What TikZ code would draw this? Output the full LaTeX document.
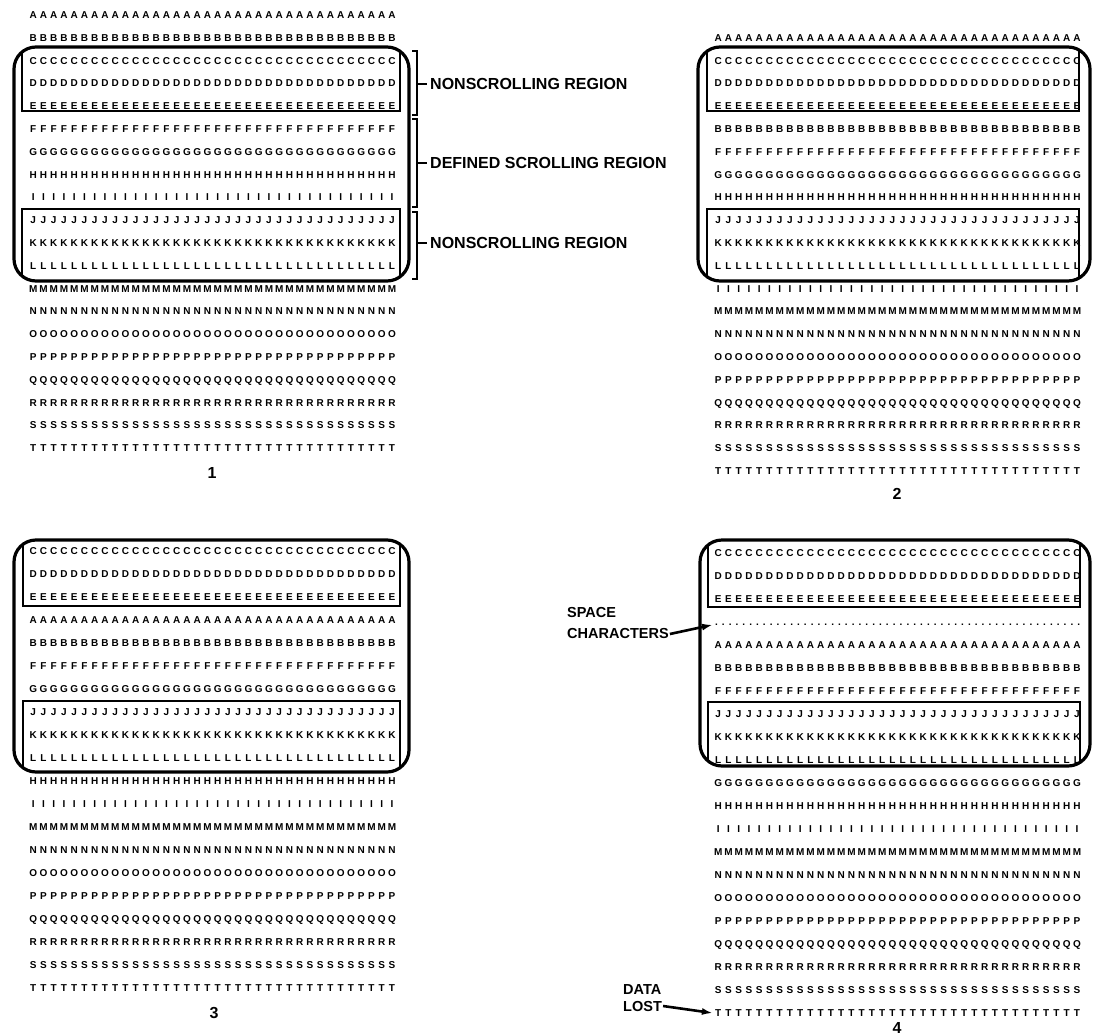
\documentclass[tikz,border=0pt]{standalone}
\usepackage{fontspec}
\setmainfont{Liberation Sans}
\usetikzlibrary{arrows.meta}
\newcommand\charrow[1]{\foreach \k in {1,...,36}{\makebox[10.25pt]{#1}}}
\newcommand\spacerow{\foreach \k in {1,...,54}{\makebox[6.833pt]{.}}}
\tikzset{
  crow/.style={anchor=base west,inner sep=0pt,font=\fontsize{10}{10}\selectfont\bfseries},
  screen/.style={line width=3.2pt,rounded corners=22pt},
  fixedbox/.style={line width=1.6pt},
  tickline/.style={line width=1.3pt},
  regionlbl/.style={anchor=west,inner sep=3pt,font=\fontsize{16}{16}\selectfont\bfseries},
  notelbl/.style={anchor=west,inner sep=1pt,font=\fontsize{14.5}{15}\selectfont\bfseries},
  pagenum/.style={inner sep=0pt,font=\fontsize{16}{16}\selectfont\bfseries},
  pointer/.style={line width=2.6pt,-{Latex[length=11pt,width=7pt]}}
}
\begin{document}
\begin{tikzpicture}[x=1pt,y=-1pt]
  \useasboundingbox (0,0) rectangle (1095,1036);

  \foreach \c [count=\i from 0] in {A,B,C,D,E,F,G,H,I,J,K,L,M,N,O,P,Q,R,S,T}
    \node[crow] (p1-\c) at (27.9,18.5+22.8*\i) {\charrow{\c}};
  \begin{scope}
    \clip[rounded corners=22pt] (14,47) rectangle (409,281);
    \draw[fixedbox] (22,40) rectangle (400,111);
    \draw[fixedbox] (22,209) rectangle (400,290);
  \end{scope}
  \draw[screen] (14,47) rectangle (409,281);
  \node[regionlbl] (nsr-top) at (427,84) {NONSCROLLING REGION};
  \node[regionlbl] (dsr) at (427,163) {DEFINED SCROLLING REGION};
  \node[regionlbl] (nsr-bot) at (427,243) {NONSCROLLING REGION};
  \draw[tickline] (412,51) -| (417,115) -- (412,115);
  \draw[tickline] (412,119) -| (417,207) -- (412,207);
  \draw[tickline] (412,212) -| (417,279) -- (412,279);
  \draw[tickline] (417,84) -- (nsr-top.west);
  \draw[tickline] (417,163) -- (dsr.west);
  \draw[tickline] (417,243) -- (nsr-bot.west);
  \node[pagenum] (num1) at (212,473) {1};

  \foreach \c [count=\i from 1] in {A,C,D,E,B,F,G,H,J,K,L,I,M,N,O,P,Q,R,S,T}
    \node[crow] (p2-\c) at (712.9,18.5+22.8*\i) {\charrow{\c}};
  \begin{scope}
    \clip[rounded corners=22pt] (698,47) rectangle (1090,281);
    \draw[fixedbox] (707,40) rectangle (1079,111);
    \draw[fixedbox] (707,209) rectangle (1079,290);
  \end{scope}
  \draw[screen] (698,47) rectangle (1090,281);
  \node[pagenum] (num2) at (897,494) {2};

  \foreach \c [count=\i from 0] in {C,D,E,A,B,F,G,J,K,L,H,I,M,N,O,P,Q,R,S,T}
    \node[crow] (p3-\c) at (27.9,554.5+23*\i) {\charrow{\c}};
  \begin{scope}
    \clip[rounded corners=22pt] (14,540) rectangle (409,772);
    \draw[fixedbox] (23,530) rectangle (400,606);
    \draw[fixedbox] (23,701) rectangle (400,780);
  \end{scope}
  \draw[screen] (14,540) rectangle (409,772);
  \node[pagenum] (num3) at (214,1013) {3};

  \foreach \c/\i in {C/0,D/1,E/2,A/4,B/5,F/6,J/7,K/8,L/9,G/10,H/11,I/12,M/13,N/14,O/15,P/16,Q/17,R/18,S/19,T/20}
    \node[crow] (p4-\c) at (712.9,556.5+23*\i) {\charrow{\c}};
  \node[crow] (p4-dots) at (712.9,625.5) {\spacerow};
  \begin{scope}
    \clip[rounded corners=22pt] (700,540) rectangle (1090,766);
    \draw[fixedbox] (708,530) rectangle (1080,607);
    \draw[fixedbox] (708,702) rectangle (1080,775);
  \end{scope}
  \draw[screen] (700,540) rectangle (1090,766);
  \node[pagenum] (num4) at (897,1028) {4};

  \node[notelbl] (space-a) at (566,613) {SPACE};
  \node[notelbl] (space-b) at (566,634) {CHARACTERS};
  \draw[pointer] (space-b.east) -- (p4-dots.west);
  \node[notelbl] (lost-a) at (622,990) {DATA};
  \node[notelbl] (lost-b) at (622,1006) {LOST};
  \draw[pointer] (lost-b.east) -- (p4-T.west);
\end{tikzpicture}
\end{document}
